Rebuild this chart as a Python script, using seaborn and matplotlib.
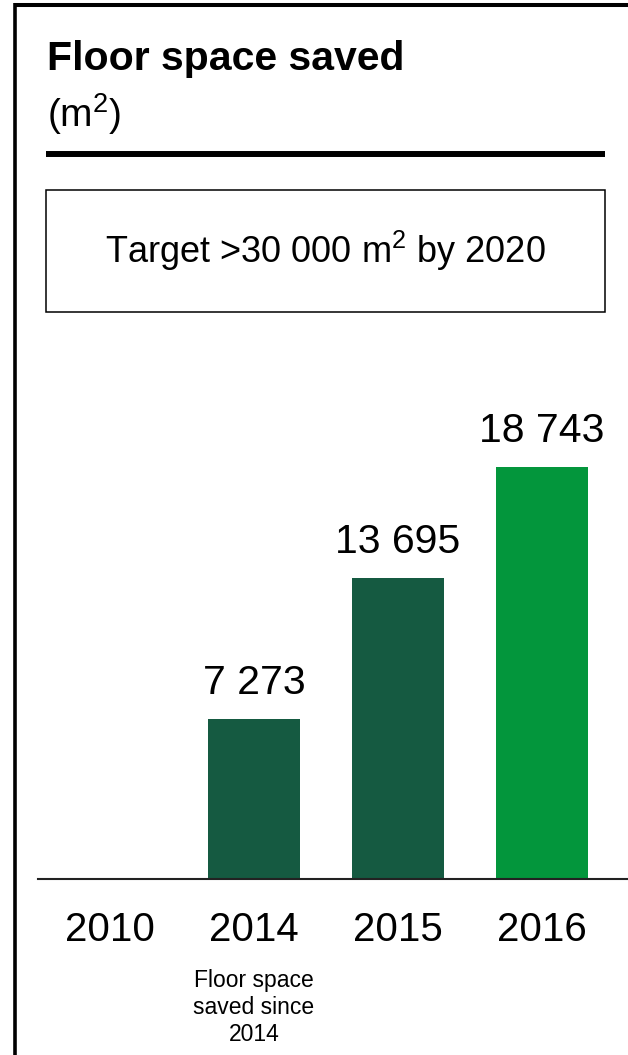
import numpy as np
import pandas as pd
import matplotlib
matplotlib.use("Agg")
import matplotlib.pyplot as plt
from matplotlib.lines import Line2D
from matplotlib.patches import Rectangle
from matplotlib.transforms import blended_transform_factory
import seaborn as sns

# Data
years = ["2010", "2014", "2015", "2016"]
saved_m2 = [np.nan, 7273, 13695, 18743]
bar_colors = ["#155A41", "#155A41", "#155A41", "#03963C"]

title = "Floor space saved"
unit = "(m$^\\mathregular{2}$)"
target_text = "Target >30 000 m$^\\mathregular{2}$ by 2020"
note_text = "Floor space\nsaved since\n2014"

sns.set_theme(style="white")
plt.rcParams["font.family"] = ["Liberation Sans", "DejaVu Sans"]

W, H = 628, 1055
fig = plt.figure(figsize=(W / 100, H / 100), dpi=100)


def fx(px):
    return px / W


def fy(py):
    return 1 - py / H


# Chart area
ax = fig.add_axes([fx(38), fy(879), fx(628) - fx(38), fy(400) - fy(879)])
df = pd.DataFrame({"year": years, "value": saved_m2})
palette = dict(zip(years, bar_colors))
sns.barplot(data=df, x="year", y="value", hue="year", order=years,
            palette=palette, legend=False, width=0.64, linewidth=0,
            saturation=1, ax=ax)
ax.set_xlim(-0.5, 3.597)
ax.set_ylim(0, 21800)
ax.set_xlabel("")
ax.set_ylabel("")
ax.set_yticks([])
ax.set_xticks(range(len(years)))
ax.set_xticklabels(years, fontsize=29, color="black")
ax.tick_params(axis="x", length=0, pad=23)
for side in ["top", "right", "left"]:
    ax.spines[side].set_visible(False)
ax.spines["bottom"].set_color("#222222")
ax.spines["bottom"].set_linewidth(1.5)

for i, v in enumerate(saved_m2):
    if np.isnan(v):
        continue
    label = f"{v:,.0f}".replace(",", " ")
    ax.annotate(label, xy=(i, v), xytext=(0, 18), textcoords="offset points",
                ha="center", va="baseline", fontsize=29.5, color="black")

# Note under the 2014 column
tr = blended_transform_factory(ax.transData, fig.transFigure)
ax.text(1, fy(969), note_text, transform=tr, ha="center", va="top",
        fontsize=16.5, linespacing=1.22, color="black")

# Frame lines (left and top)
fig.add_artist(Line2D([fx(15), fx(15)], [fy(3), 0], transform=fig.transFigure,
                      color="black", linewidth=2.6, solid_capstyle="butt"))
fig.add_artist(Line2D([fx(13.5), 1], [fy(5), fy(5)], transform=fig.transFigure,
                      color="black", linewidth=2.9, solid_capstyle="butt"))

# Header
fig.text(fx(47), fy(70), title, ha="left", va="baseline", fontsize=29.5,
         fontweight="bold", color="black")
fig.text(fx(47), fy(127), unit, ha="left", va="baseline", fontsize=28,
         color="black")
fig.add_artist(Line2D([fx(46), fx(605)], [fy(154), fy(154)],
                      transform=fig.transFigure, color="black",
                      linewidth=4.3, solid_capstyle="butt"))

# Target box
fig.add_artist(Rectangle((fx(46), fy(312)), fx(605) - fx(46), fy(190) - fy(312),
                         transform=fig.transFigure, fill=False,
                         edgecolor="black", linewidth=1.1))
fig.text(fx(325.5), fy(263), target_text, ha="center", va="baseline",
         fontsize=26, color="black")

fig.savefig("out.png", dpi=100)
